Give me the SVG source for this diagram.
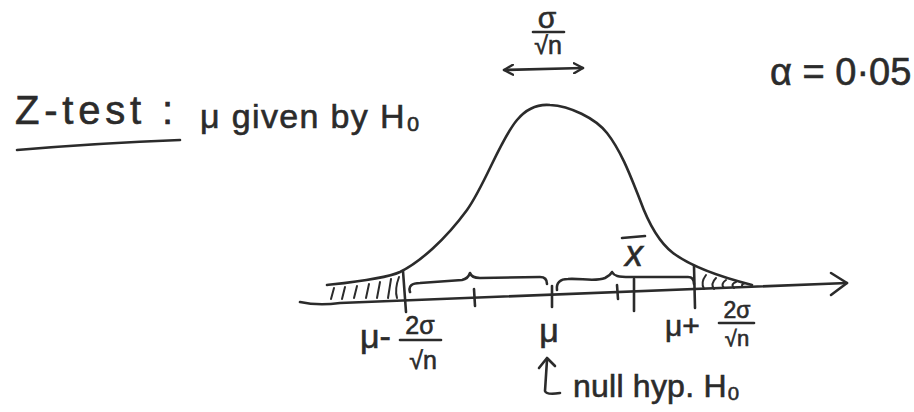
<svg xmlns="http://www.w3.org/2000/svg" width="914" height="412" viewBox="0 0 914 412">
<style>
.ink{fill:none;stroke:#2b2b2b;stroke-width:2.6;stroke-linecap:round;stroke-linejoin:round}
.thin{fill:none;stroke:#2b2b2b;stroke-width:2;stroke-linecap:round}
text{font-family:"Liberation Sans","DejaVu Sans",sans-serif;fill:#2b2b2b;stroke:#2b2b2b;stroke-width:0.6}
.mid{text-anchor:middle}
</style>
<defs>
<marker id="head" viewBox="0 0 12 12" refX="10" refY="6" markerWidth="12" markerHeight="12" markerUnits="userSpaceOnUse" orient="auto-start-reverse">
<path d="M1,1 L10,6 L1,11" fill="none" stroke="#2b2b2b" stroke-width="2.4" stroke-linecap="round" stroke-linejoin="round"/>
</marker>
</defs>
<rect width="914" height="412" fill="#ffffff"/>

<g id="title">
<text x="15" y="124" font-size="40" textLength="158" lengthAdjust="spacing">Z-test :</text>
<path class="ink" d="M17,150 Q100,143 180,140"/>
<text x="200" y="128" font-size="34" textLength="220" lengthAdjust="spacing">μ given by H₀</text>
</g>

<g id="alpha">
<text x="770" y="85" font-size="38">α = 0·05</text>
</g>

<g id="sigma-width">
<text class="mid" x="547" y="28" font-size="30">σ</text>
<path class="ink" d="M533,32 L564,32"/>
<text class="mid" x="548" y="54" font-size="25">√n</text>
<path class="ink" d="M504,70 L583,68" marker-start="url(#head)" marker-end="url(#head)"/>
</g>

<g id="curve">
<path class="ink" d="M327,285 C345,283 385,279 400,272 C420,262 445,240 467,210 C485,185 500,140 517,120 C527,108 538,104 550,105 C570,106 595,118 607,133 C622,152 632,180 640,200 C648,222 660,243 673,253 C685,262 705,273 752,285"/>
</g>

<g id="hatch-left">
<path class="thin" d="M331,299 L334,288 M342,299 L345,287 M354,298 L357,286 M366,298 L369,284 M377,298 L380,282 M388,298 L391,279 M397,298 C395,291 396,285 399,277"/>
</g>

<g id="hatch-right">
<path class="thin" d="M704,289 C701,284 703,279 706,275 M714,289 C711,285 713,281 716,278 M724,288 C721,285 723,282 726,280 M734,288 C731,285 733,283 736,282 M743,287 C741,285 742,284 745,283"/>
</g>

<g id="axis">
<path class="ink" d="M300,302 Q318,306 340,303 L847,283"/>
<path class="ink" d="M831,273 L847,283 L831,295"/>
</g>

<g id="ticks">
<path class="ink" d="M403,271 L406,312"/>
<path class="ink" d="M474,289 L475,306"/>
<path class="ink" d="M552,286 L552,307"/>
<path class="ink" d="M617,285 L618,299"/>
<path class="ink" d="M634,279 L634,311" stroke-width="3.2"/>
<path class="ink" d="M694,266 L695,308"/>
</g>

<g id="braces">
<path class="ink" d="M410,292 C408,286 412,283 420,283 L462,280 C467,279 469,276 470,273 C471,276 474,278 480,278 L540,277 C545,277 547,280 547,284"/>
<path class="ink" d="M557,290 C556,283 560,279 568,279 C580,278 595,282 605,278 C609,276 611,274 612,272 C614,276 618,277 630,277 L688,277 C692,277 694,280 694,284"/>
</g>

<g id="label-lower">
<text x="360" y="348" font-size="34">μ-</text>
<text class="mid" x="420" y="334" font-size="25">2σ</text>
<path class="ink" d="M400,340 L441,340"/>
<text class="mid" x="423" y="369" font-size="25">√n</text>
</g>

<g id="label-mu">
<text class="mid" x="549" y="342" font-size="34">μ</text>
</g>

<g id="label-upper">
<text x="665" y="336" font-size="30">μ+</text>
<text class="mid" x="737" y="318" font-size="23">2σ</text>
<path class="ink" d="M719,323 L754,323"/>
<text class="mid" x="737" y="346" font-size="22">√n</text>
</g>

<g id="label-xbar">
<text class="mid" x="634" y="266" font-size="36" font-style="italic">x</text>
<path class="ink" d="M622,238 L645,236"/>
</g>

<g id="null-hyp">
<path class="ink" d="M547,360 L545,391 Q546,395 560,393"/>
<path class="ink" d="M539,368 L547,358 L555,366"/>
<text x="573" y="397" font-size="32" textLength="167" lengthAdjust="spacing">null hyp. H₀</text>
</g>
</svg>
